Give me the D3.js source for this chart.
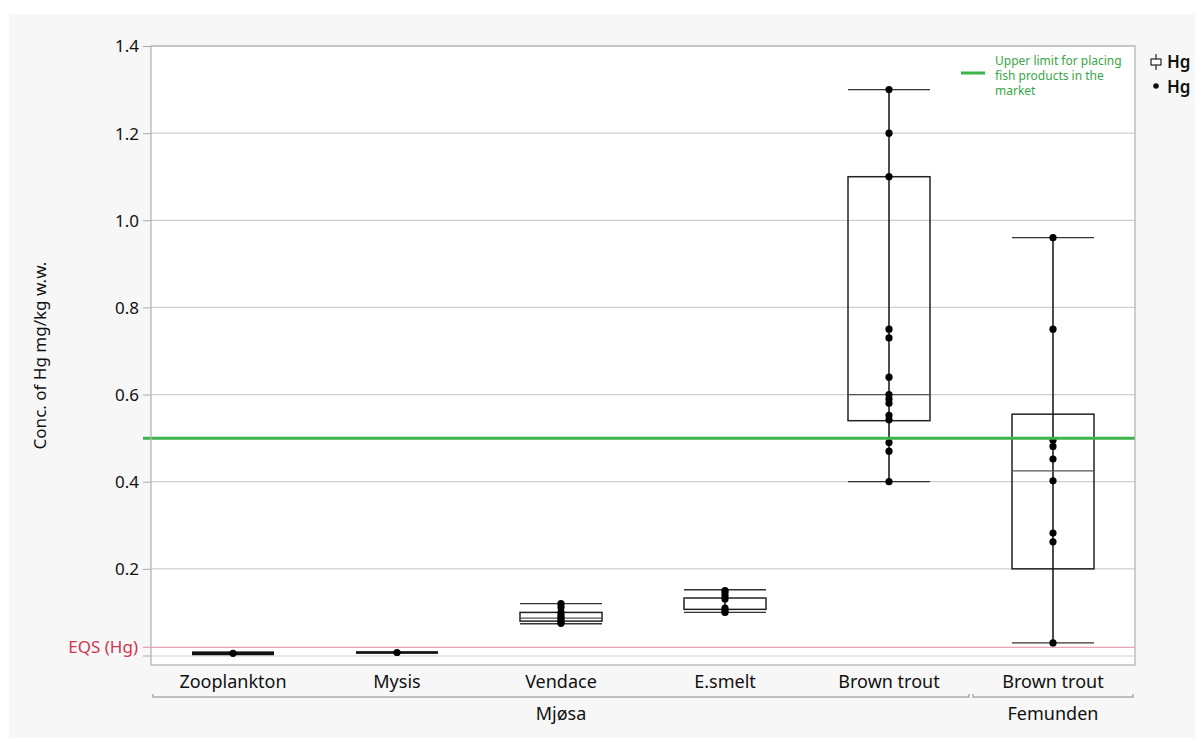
<!DOCTYPE html>
<html>
<head>
<meta charset="utf-8">
<script src="https://cdn.jsdelivr.net/npm/d3@7"></script>
<style>
  body { margin: 0; background: #fff; }
  text { font-family: "Noto Sans", "Open Sans", sans-serif; }
</style>
</head>
<body>
<svg id="chart" width="1202" height="744"></svg>
<script>
// categories and groups
const species = ["Zooplankton", "Mysis", "Vendace", "E.smelt", "Brown trout", "Brown trout"];
const lakes = ["Mjøsa", "Mjøsa", "Mjøsa", "Mjøsa", "Mjøsa", "Femunden"];
const lakeGroups = ["Mjøsa", "Femunden"];

// box stats: [lowWhisker, q1, median, q3, highWhisker]
const boxStats = [
  [0.006, 0.004, 0.006, 0.008, 0.008],
  [0.008, 0.008, 0.008, 0.008, 0.008],
  [0.074, 0.080, 0.087, 0.100, 0.120],
  [0.100, 0.107, 0.132, 0.133, 0.152],
  [0.40, 0.54, 0.60, 1.10, 1.30],
  [0.03, 0.20, 0.425, 0.555, 0.96]
];

// individual Hg values
const points = [
  [0.006],
  [0.008],
  [0.12, 0.112, 0.10, 0.093, 0.088, 0.083, 0.078, 0.075],
  [0.15, 0.145, 0.138, 0.131, 0.11, 0.104, 0.10],
  [1.30, 1.20, 1.10, 0.75, 0.73, 0.64, 0.60, 0.59, 0.58, 0.552, 0.542, 0.49, 0.47, 0.40],
  [0.96, 0.75, 0.495, 0.481, 0.452, 0.402, 0.282, 0.262, 0.03]
];

const yTicks = [0, 0.2, 0.4, 0.6, 0.8, 1.0, 1.2, 1.4];
const eqs = 0.02;
const marketLimit = 0.5;

const svg = d3.select("#chart");
const margin = {left: 151, right: 67, top: 46, bottom: 79};
const W = 1202, H = 744;

// panel background
svg.append("rect").attr("x", 9).attr("y", 14).attr("width", 1186).attr("height", 724).attr("fill", "#f7f7f7");

const x = d3.scaleBand().domain(d3.range(species.length)).range([margin.left, W - margin.right]).padding(0);
const y = d3.scaleLinear().domain([-0.0207, 1.4]).range([H - margin.bottom, margin.top]);

// plot area
svg.append("rect")
  .attr("x", margin.left).attr("y", margin.top)
  .attr("width", W - margin.left - margin.right)
  .attr("height", H - margin.top - margin.bottom)
  .attr("fill", "#fff");

// gridlines
svg.append("g").selectAll("line").data(yTicks).join("line")
  .attr("x1", margin.left).attr("x2", W - margin.right)
  .attr("y1", d => y(d)).attr("y2", d => y(d))
  .attr("stroke", "#cfcfcf").attr("stroke-width", 1.2);

// y axis
const yAxis = d3.axisLeft(y).tickValues(yTicks.filter(d => d > 0)).tickFormat(d3.format(".1f")).tickSize(8).tickPadding(4);
const ya = svg.append("g").attr("transform", `translate(${margin.left},0)`).call(yAxis);
ya.select(".domain").remove();
ya.selectAll(".tick line").attr("stroke", "#aaa");
ya.selectAll(".tick text").attr("font-size", 17).attr("font-family", "'Noto Sans', sans-serif").attr("fill", "#111").attr("dy", "0.35em");
// tick at 0 without label
svg.append("line").attr("x1", margin.left - 8).attr("x2", margin.left).attr("y1", y(0)).attr("y2", y(0)).attr("stroke", "#aaa");

// EQS line
svg.append("line")
  .attr("x1", margin.left - 8).attr("x2", W - margin.right)
  .attr("y1", y(eqs)).attr("y2", y(eqs))
  .attr("stroke", "#e08a99").attr("stroke-width", 1.2);
svg.append("text").attr("x", margin.left - 13).attr("y", y(eqs)).attr("dy", "0.35em")
  .attr("text-anchor", "end").attr("font-size", 17).attr("fill", "#d0364f").text("EQS (Hg)");

// y label
svg.append("text")
  .attr("transform", `translate(46,${(margin.top + H - margin.bottom) / 2}) rotate(-90)`)
  .attr("text-anchor", "middle").attr("font-size", 17).attr("fill", "#111")
  .text("Conc. of Hg mg/kg w.w.");

// boxes
const boxW = x.bandwidth() / 2;
const g = svg.append("g");
boxStats.forEach((s, i) => {
  const cx = x(i) + x.bandwidth() / 2;
  const [lo, q1, med, q3, hi] = s;
  const grp = g.append("g");
  const thin = (y(q1) - y(q3)) < 3;
  grp.append("line").attr("x1", cx).attr("x2", cx).attr("y1", y(lo)).attr("y2", y(hi)).attr("stroke", "#111").attr("stroke-width", 1.5);
  [lo, hi].forEach(v => grp.append("line")
    .attr("x1", cx - boxW / 2).attr("x2", cx + boxW / 2)
    .attr("y1", y(v)).attr("y2", y(v)).attr("stroke", "#333").attr("stroke-width", 1.3));
  if (thin) {
    const h = Math.max(2.5, y(q1) - y(q3) + 2);
    grp.append("rect").attr("x", cx - boxW / 2).attr("width", boxW)
      .attr("y", y(med) - h / 2).attr("height", h)
      .attr("fill", "#111");
  } else {
    grp.append("rect").attr("x", cx - boxW / 2).attr("width", boxW)
      .attr("y", y(q3)).attr("height", y(q1) - y(q3))
      .attr("fill", "none").attr("stroke", "#222").attr("stroke-width", 1.5);
    grp.append("line").attr("x1", cx - boxW / 2).attr("x2", cx + boxW / 2)
      .attr("y1", y(med)).attr("y2", y(med)).attr("stroke", "#555").attr("stroke-width", 1.3);
  }
});

// points
points.forEach((arr, i) => {
  const cx = x(i) + x.bandwidth() / 2;
  g.append("g").selectAll("circle").data(arr).join("circle")
    .attr("cx", cx).attr("cy", d => y(d)).attr("r", 3.6).attr("fill", "#000");
});

// market limit line
svg.append("line")
  .attr("x1", margin.left - 8).attr("x2", W - margin.right)
  .attr("y1", y(marketLimit)).attr("y2", y(marketLimit))
  .attr("stroke", "#3cb54a").attr("stroke-width", 3);

// frame
svg.append("rect")
  .attr("x", margin.left).attr("y", margin.top)
  .attr("width", W - margin.left - margin.right)
  .attr("height", H - margin.top - margin.bottom)
  .attr("fill", "none").attr("stroke", "#b5b5b5").attr("stroke-width", 1.3);

// x labels
svg.append("g").selectAll("text").data(species).join("text")
  .attr("x", (d, i) => x(i) + x.bandwidth() / 2).attr("y", 688)
  .attr("text-anchor", "middle").attr("font-size", 18).attr("fill", "#111").text(d => d);

// lake brackets
lakeGroups.forEach(lk => {
  const idx = lakes.map((l, i) => l === lk ? i : -1).filter(i => i >= 0);
  const x0 = x(idx[0]) + 2, x1 = x(idx[idx.length - 1]) + x.bandwidth() - 2;
  svg.append("path")
    .attr("d", `M${x0},${694}V${697}H${x1}V${694}`)
    .attr("fill", "none").attr("stroke", "#aaa").attr("stroke-width", 1.5);
  svg.append("text").attr("x", (x(idx[0]) + x(idx[idx.length - 1]) + x.bandwidth()) / 2).attr("y", 720)
    .attr("text-anchor", "middle").attr("font-size", 18).attr("fill", "#111").text(lk);
});

// green legend inside plot
svg.append("line").attr("x1", 961).attr("x2", 985).attr("y1", 73).attr("y2", 73)
  .attr("stroke", "#3cb54a").attr("stroke-width", 3);
const leg = svg.append("text").attr("x", 995).attr("y", 65).attr("font-size", 12).attr("fill", "#3aa648");
["Upper limit for placing", "fish products in the", "market"].forEach((t, i) =>
  leg.append("tspan").attr("x", 995).attr("dy", i === 0 ? 0 : 15).text(t));

// right legend
const rl = svg.append("g").attr("transform", "translate(1150,0)");
rl.append("line").attr("x1", 6).attr("x2", 6).attr("y1", 54).attr("y2", 70).attr("stroke", "#222").attr("stroke-width", 1.2);
rl.append("rect").attr("x", 1).attr("y", 59).attr("width", 10).attr("height", 6).attr("fill", "#fff").attr("stroke", "#222").attr("stroke-width", 1.2);
rl.append("circle").attr("cx", 6).attr("cy", 86).attr("r", 2.8).attr("fill", "#111");
rl.append("text").attr("x", 17).attr("y", 68).attr("font-size", 17).attr("font-weight", 600).attr("fill", "#111").text("Hg");
rl.append("text").attr("x", 17).attr("y", 93).attr("font-size", 17).attr("font-weight", 600).attr("fill", "#111").text("Hg");
</script>
</body>
</html>
